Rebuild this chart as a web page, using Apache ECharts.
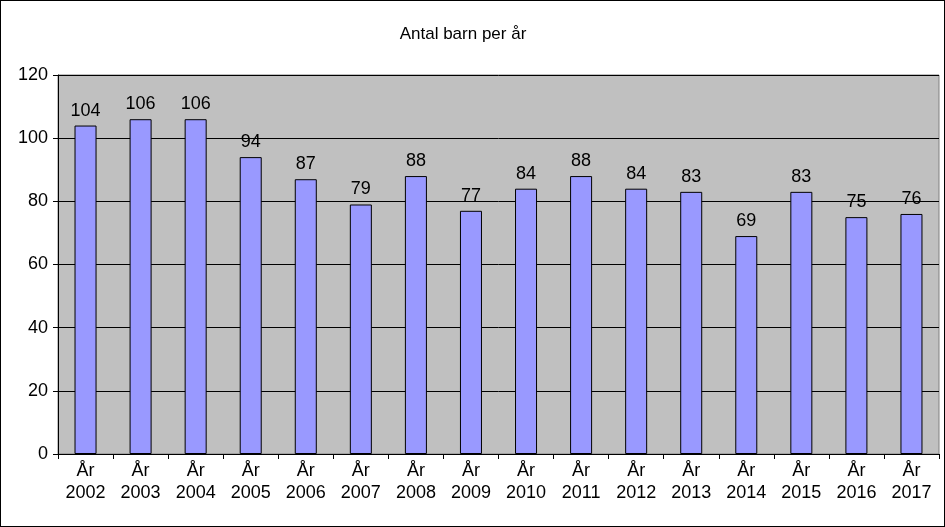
<!DOCTYPE html>
<html>
<head>
<meta charset="utf-8">
<script src="https://cdn.jsdelivr.net/npm/echarts@6/dist/echarts.min.js"></script>
<style>
html, body { margin: 0; padding: 0; background: #fff; }
#chart { width: 943px; height: 525px; border: 1px solid #000; }
</style>
</head>
<body>
<div id="chart"></div>
<script>
var years = ['2002', '2003', '2004', '2005', '2006', '2007', '2008', '2009',
    '2010', '2011', '2012', '2013', '2014', '2015', '2016', '2017'];
var children = [104, 106, 106, 94, 87, 79, 88, 77, 84, 88, 84, 83, 69, 83, 75, 76];

var myChart = echarts.init(document.getElementById('chart'));
var font = 'Liberation Sans, Arial, sans-serif';

myChart.setOption({
    backgroundColor: '#fff',
    animation: false,
    title: {
        text: 'Antal barn per år',
        left: 457,
        top: 20,
        textAlign: 'center',
        textStyle: { fontFamily: font, fontSize: 17, fontWeight: 'normal', color: '#000' }
    },
    grid: { left: 57, right: 5, top: 74, bottom: 72, show: true, backgroundColor: '#c0c0c0', borderColor: '#808080', borderWidth: 1 },
    xAxis: {
        type: 'category',
        data: years.map(function (y) { return 'År\n' + y; }),
        axisLine: { lineStyle: { color: '#000' } },
        axisTick: { show: true, inside: false, length: 5, lineStyle: { color: '#000' } },
        axisLabel: { fontFamily: font, fontSize: 18, color: '#000', lineHeight: 22, margin: 6 }
    },
    yAxis: {
        type: 'value',
        min: 0,
        max: 120,
        interval: 20,
        axisLine: { show: true, lineStyle: { color: '#000' } },
        axisTick: { show: true, length: 5, lineStyle: { color: '#000' } },
        axisLabel: { fontFamily: font, fontSize: 18, color: '#000', margin: 10 },
        splitLine: { lineStyle: { color: '#000' } }
    },
    series: [{
        type: 'bar',
        data: children,
        barWidth: '40%',
        itemStyle: { color: '#9999ff', borderColor: '#000', borderWidth: 1 },
        label: { show: true, position: 'top', distance: 6, fontFamily: font, fontSize: 18, color: '#000' }
    }]
});
</script>
</body>
</html>
